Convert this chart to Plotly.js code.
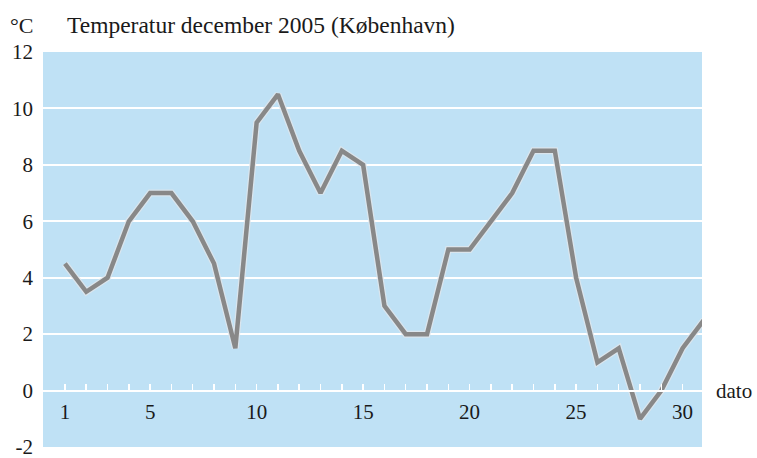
<!DOCTYPE html>
<html>
<head>
<meta charset="utf-8">
<script src="https://cdn.plot.ly/plotly-3.0.1.min.js"></script>
<style>html,body{margin:0;padding:0;background:#fff;}#chart{width:757px;height:458px;}</style>
</head>
<body>
<div id="chart"></div>
<script>
const days = [1,2,3,4,5,6,7,8,9,10,11,12,13,14,15,16,17,18,19,20,21,22,23,24,25,26,27,28,29,30,31];
const temps = [4.5,3.5,4,6,7,7,6,4.5,1.5,9.5,10.5,8.5,7,8.5,8,3,2,2,5,5,6,7,8.5,8.5,4,1,1.5,-1,0,1.5,2.5];
const xTickVals = [1,5,10,15,20,25,30];
const yTickVals = [-2,0,2,4,6,8,10,12];
const chartTitle = "Temperatur december 2005 (København)";
const unitLabel = "°C";
const xLabel = "dato";

const serifFam = "Liberation Serif, Times New Roman, serif";
const W = 757, H = 458;
const L = 43, R = 702, T = 52, B = 447;
const txt = '#1a1a1a';

const traces = [
  {x: days, y: temps, type: 'scatter', mode: 'lines',
   line: {color: 'rgba(225,230,235,0.8)', width: 7}, hoverinfo: 'skip', showlegend: false},
  {x: days, y: temps, type: 'scatter', mode: 'lines',
   line: {color: '#888888', width: 4.5}, showlegend: false}
];

const layout = {
  width: W, height: H,
  margin: {l: L, r: W - R, t: T, b: H - B, pad: 0},
  paper_bgcolor: '#ffffff',
  plot_bgcolor: '#bfe1f5',
  showlegend: false,
  font: {family: serifFam, color: txt, size: 21},
  title: {text: chartTitle, x: 67 / W, xanchor: 'left', xref: 'container',
          y: 1 - 25 / H, yanchor: 'middle', yref: 'container',
          font: {family: serifFam, size: 23.5, color: txt}},
  xaxis: {
    range: [-0.03, 30.91],
    anchor: 'free', position: 2 / 14,
    tickmode: 'array', tickvals: xTickVals, ticktext: xTickVals.map(String),
    ticks: 'inside', ticklen: 6, tickwidth: 1.5, tickcolor: '#ffffff',
    minor: {tickmode: 'array', tickvals: days.slice(0, 30), ticks: 'inside',
            ticklen: 6, tickwidth: 1.5, tickcolor: '#ffffff', showgrid: false},
    showline: true, linecolor: '#ffffff', linewidth: 2,
    showgrid: false, zeroline: false,
    ticklabelstandoff: 2,
    ticklabeloverflow: 'allow',
    tickfont: {family: serifFam, size: 21, color: txt},
    fixedrange: true
  },
  yaxis: {
    range: [-2, 12],
    tickmode: 'array', tickvals: yTickVals, ticktext: yTickVals.map(String),
    ticks: '', showline: false,
    showgrid: true, gridcolor: '#ffffff', gridwidth: 2,
    zeroline: false,
    ticklabelstandoff: 9,
    ticklabeloverflow: 'allow',
    tickfont: {family: serifFam, size: 21, color: txt},
    fixedrange: true
  },
  annotations: [
    {text: unitLabel, xref: 'paper', yref: 'paper',
     x: (8 - L) / (R - L), y: (B - 25) / (B - T), xanchor: 'left', yanchor: 'middle',
     showarrow: false, font: {family: serifFam, size: 22, color: txt}},
    {text: xLabel, xref: 'paper', yref: 'y',
     x: (714 - L) / (R - L), y: 0, xanchor: 'left', yanchor: 'middle',
     showarrow: false, font: {family: serifFam, size: 21, color: txt}}
  ]
};

Plotly.newPlot('chart', traces, layout, {displayModeBar: false, staticPlot: true});
</script>
</body>
</html>
